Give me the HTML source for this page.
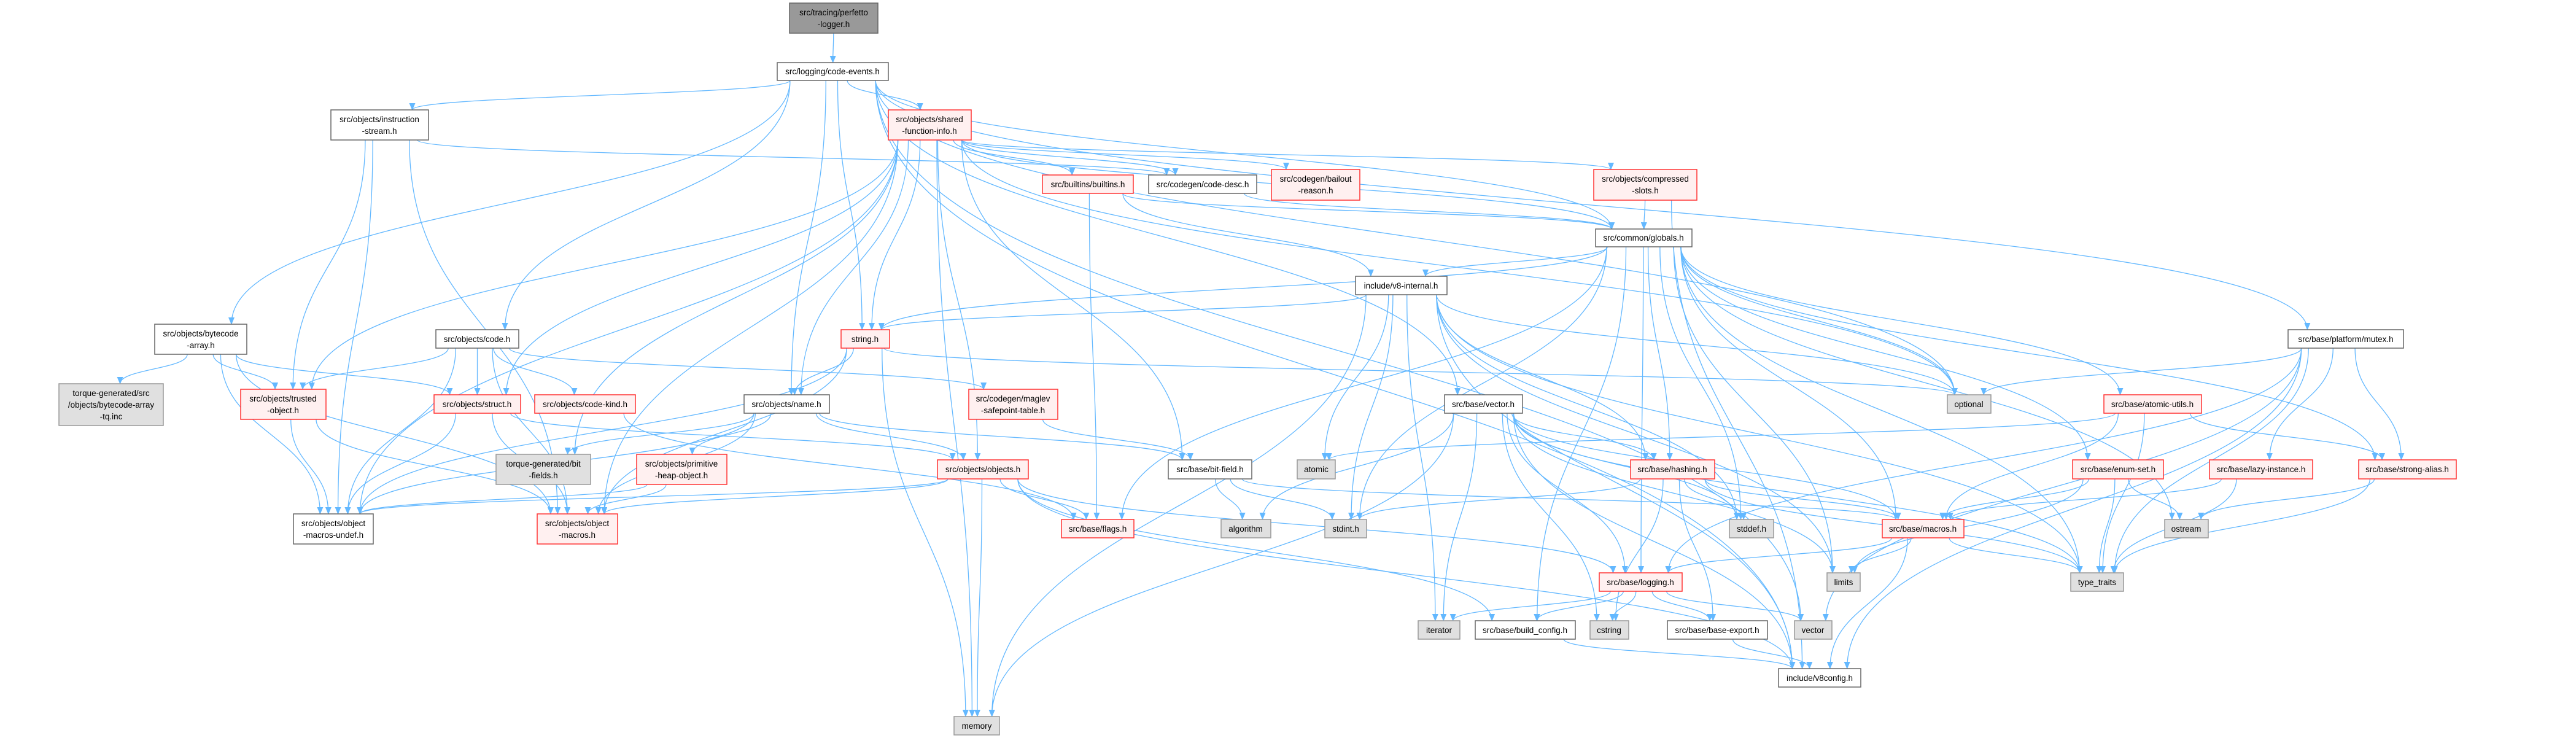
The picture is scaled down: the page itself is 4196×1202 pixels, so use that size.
<!DOCTYPE html>
<html><head><meta charset="utf-8">
<style>
html,body{margin:0;padding:0;background:#fff;}
svg{display:block;}
text{font-family:"Liberation Sans",sans-serif;font-size:13.5px;fill:#000;text-anchor:middle;}
.w{fill:#fff;stroke:#666;stroke-width:1.5;}
.r{fill:#fff0f0;stroke:#ff3333;stroke-width:1.5;}
.g{fill:#e0e0e0;stroke:#999;stroke-width:1.5;}
.k{fill:#999;stroke:#666;stroke-width:1.5;}
#edges path{fill:none;stroke:#63b8ff;stroke-width:1.3;}
</style></head><body>
<svg id="s" width="4196" height="1202" viewBox="0 0 4196 1202" xmlns="http://www.w3.org/2000/svg">
<defs><marker id="ah" markerWidth="12" markerHeight="10" refX="11" refY="5" orient="auto" markerUnits="userSpaceOnUse"><path d="M0,0 L12,5 L0,10 z" fill="#63b8ff"/></marker></defs>
<g id="edges"></g>
<g id="nodes">
<rect id="A" class="k" x="1286" y="5" width="144" height="49"/><text x="1358" y="25">src/tracing/perfetto</text><text x="1358" y="44">-logger.h</text>
<rect id="CE" class="w" x="1266" y="102" width="181" height="29"/><text x="1356" y="121">src/logging/code-events.h</text>
<rect id="IS" class="w" x="539" y="179" width="159" height="49"/><text x="618" y="199">src/objects/instruction</text><text x="618" y="218">-stream.h</text>
<rect id="SFI" class="r" x="1447" y="179" width="135" height="49"/><text x="1514" y="199">src/objects/shared</text><text x="1514" y="218">-function-info.h</text>
<rect id="BA" class="w" x="252" y="528" width="150" height="49"/><text x="327" y="548">src/objects/bytecode</text><text x="327" y="567">-array.h</text>
<rect id="CODE" class="w" x="710" y="537" width="135" height="30"/><text x="777" y="557">src/objects/code.h</text>
<rect id="STR" class="r" x="1370" y="537" width="79" height="30"/><text x="1409" y="557">string.h</text>
<rect id="BUI" class="r" x="1698" y="285" width="148" height="30"/><text x="1772" y="305">src/builtins/builtins.h</text>
<rect id="CD" class="w" x="1871" y="285" width="176" height="30"/><text x="1959" y="305">src/codegen/code-desc.h</text>
<rect id="BR" class="r" x="2071" y="276" width="144" height="50"/><text x="2143" y="296">src/codegen/bailout</text><text x="2143" y="315">-reason.h</text>
<rect id="CS" class="r" x="2596" y="276" width="168" height="50"/><text x="2680" y="296">src/objects/compressed</text><text x="2680" y="315">-slots.h</text>
<rect id="G" class="w" x="2599" y="373" width="157" height="29"/><text x="2677" y="392">src/common/globals.h</text>
<rect id="V8I" class="w" x="2208" y="450" width="149" height="30"/><text x="2282" y="470">include/v8-internal.h</text>
<rect id="MUT" class="w" x="3727" y="537" width="188" height="30"/><text x="3821" y="557">src/base/platform/mutex.h</text>
<rect id="TQ" class="g" x="96" y="625" width="170" height="68"/><text x="181" y="645">torque-generated/src</text><text x="181" y="664">/objects/bytecode-array</text><text x="181" y="683">-tq.inc</text>
<rect id="TO" class="r" x="392" y="634" width="139" height="49"/><text x="461" y="654">src/objects/trusted</text><text x="461" y="673">-object.h</text>
<rect id="ST" class="r" x="707" y="643" width="141" height="30"/><text x="777" y="663">src/objects/struct.h</text>
<rect id="CK" class="r" x="871" y="643" width="164" height="30"/><text x="953" y="663">src/objects/code-kind.h</text>
<rect id="NM" class="w" x="1212" y="643" width="139" height="30"/><text x="1281" y="663">src/objects/name.h</text>
<rect id="MS" class="r" x="1578" y="634" width="145" height="49"/><text x="1650" y="654">src/codegen/maglev</text><text x="1650" y="673">-safepoint-table.h</text>
<rect id="VEC" class="w" x="2353" y="643" width="127" height="30"/><text x="2416" y="663">src/base/vector.h</text>
<rect id="OPT" class="g" x="3172" y="643" width="71" height="30"/><text x="3207" y="663">optional</text>
<rect id="AU" class="r" x="3427" y="643" width="159" height="30"/><text x="3506" y="663">src/base/atomic-utils.h</text>
<rect id="BF" class="g" x="808" y="740" width="154" height="49"/><text x="885" y="760">torque-generated/bit</text><text x="885" y="779">-fields.h</text>
<rect id="PHO" class="r" x="1037" y="740" width="147" height="49"/><text x="1110" y="760">src/objects/primitive</text><text x="1110" y="779">-heap-object.h</text>
<rect id="OBJ" class="r" x="1527" y="749" width="148" height="31"/><text x="1601" y="769">src/objects/objects.h</text>
<rect id="BIT" class="w" x="1903" y="749" width="136" height="31"/><text x="1971" y="769">src/base/bit-field.h</text>
<rect id="ATM" class="g" x="2113" y="749" width="62" height="31"/><text x="2144" y="769">atomic</text>
<rect id="HSH" class="r" x="2656" y="749" width="137" height="31"/><text x="2724" y="769">src/base/hashing.h</text>
<rect id="ES" class="r" x="3376" y="749" width="148" height="31"/><text x="3450" y="769">src/base/enum-set.h</text>
<rect id="LI" class="r" x="3599" y="749" width="168" height="31"/><text x="3683" y="769">src/base/lazy-instance.h</text>
<rect id="SA" class="r" x="3842" y="749" width="159" height="31"/><text x="3921" y="769">src/base/strong-alias.h</text>
<rect id="OMU" class="w" x="478" y="837" width="130" height="49"/><text x="543" y="857">src/objects/object</text><text x="543" y="876">-macros-undef.h</text>
<rect id="OM" class="r" x="875" y="837" width="131" height="49"/><text x="940" y="857">src/objects/object</text><text x="940" y="876">-macros.h</text>
<rect id="FL" class="r" x="1729" y="846" width="118" height="30"/><text x="1788" y="866">src/base/flags.h</text>
<rect id="ALG" class="g" x="1989" y="846" width="81" height="30"/><text x="2029" y="866">algorithm</text>
<rect id="SI" class="g" x="2158" y="846" width="68" height="30"/><text x="2192" y="866">stdint.h</text>
<rect id="SD" class="g" x="2817" y="846" width="72" height="30"/><text x="2853" y="866">stddef.h</text>
<rect id="MAC" class="r" x="3066" y="846" width="133" height="30"/><text x="3132" y="866">src/base/macros.h</text>
<rect id="OST" class="g" x="3526" y="846" width="71" height="30"/><text x="3561" y="866">ostream</text>
<rect id="LOG" class="r" x="2605" y="933" width="135" height="30"/><text x="2672" y="953">src/base/logging.h</text>
<rect id="LIM" class="g" x="2976" y="933" width="54" height="30"/><text x="3003" y="953">limits</text>
<rect id="TT" class="g" x="3373" y="933" width="86" height="30"/><text x="3416" y="953">type_traits</text>
<rect id="IT" class="g" x="2310" y="1011" width="68" height="30"/><text x="2344" y="1031">iterator</text>
<rect id="BC" class="w" x="2403" y="1011" width="163" height="30"/><text x="2484" y="1031">src/base/build_config.h</text>
<rect id="CST" class="g" x="2590" y="1011" width="63" height="30"/><text x="2621" y="1031">cstring</text>
<rect id="BE" class="w" x="2716" y="1011" width="163" height="30"/><text x="2797" y="1031">src/base/base-export.h</text>
<rect id="VC" class="g" x="2923" y="1011" width="61" height="30"/><text x="2953" y="1031">vector</text>
<rect id="V8C" class="w" x="2897" y="1089" width="134" height="30"/><text x="2964" y="1109">include/v8config.h</text>
<rect id="MEM" class="g" x="1554" y="1167" width="74" height="30"/><text x="1591" y="1187">memory</text>
</g>
</svg>
<script>
(function(){
var E={
A:"CE",
CE:"IS SFI BA CODE NM STR G VEC MUT OPT V8C VC",
IS:"CD TO OMU OM",
SFI:"BUI CD BR CS G ST NM OBJ BIT MEM OMU OM OPT STR BF TO",
BA:"TQ TO ST OMU OM",
CODE:"TO ST CK MS OMU OM",
BUI:"G FL V8I",
CD:"G",
CS:"G V8C",
G:"V8I STR AU SA ES LOG BC MAC LIM SD SI OST TT FL OPT HSH",
V8I:"STR ATM SI SD LIM TT V8C OPT MEM HSH IT",
STR:"NM OMU OM MEM OPT",
NM:"OBJ PHO BF BIT OMU OM",
ST:"OBJ OMU OM",
TO:"OMU OM",
CK:"FL",
PHO:"OMU OM",
MS:"BIT",
OBJ:"FL MEM LOG V8C BC OMU OM",
BIT:"ALG SI MAC",
VEC:"ALG MEM IT LOG CST MAC HSH SD TT LIM V8C",
HSH:"SI MAC CST BE TT SD",
MUT:"OPT LOG LI SA VC V8C TT",
AU:"ATM MAC SA TT",
ES:"MAC OST TT LIM",
LI:"MAC TT",
SA:"OST TT",
MAC:"LIM TT V8C LOG",
LOG:"IT BC CST BE VC",
BC:"V8C",
BE:"V8C"
};
function bx(id){var r=document.getElementById(id);var x=+r.getAttribute("x"),y=+r.getAttribute("y"),w=+r.getAttribute("width"),h=+r.getAttribute("height");return{x1:x,y1:y,x2:x+w,y2:y+h,w:w,h:h,cx:x+w/2,cy:y+h/2};}
function cl(v,m){return Math.max(-m,Math.min(m,v));}
var g=document.getElementById("edges"),out="";
for(var s in E){var a=bx(s);E[s].split(" ").forEach(function(t){var b=bx(t),sx,sy,ex,ey,d;
 if(b.y1>a.y2+5){sx=a.cx+cl((b.cx-a.cx)*0.15,a.w/2.6);sy=a.y2;ex=b.cx+cl((a.cx-b.cx)*0.1,b.w/3);ey=b.y1;var m=(ey-sy)*0.5;
  d="M"+sx+","+sy+" C"+sx+","+(sy+m)+" "+ex+","+(ey-m)+" "+ex+","+ey;}
 else if(b.y2<a.y1-5){sx=a.cx+cl((b.cx-a.cx)*0.15,a.w/2.6);sy=a.y1;ex=b.cx+cl((a.cx-b.cx)*0.1,b.w/3);ey=b.y2;var m2=(sy-ey)*0.5;
  d="M"+sx+","+sy+" C"+sx+","+(sy-m2)+" "+ex+","+(ey+m2)+" "+ex+","+ey;}
 else{if(b.cx>a.cx){sx=a.x2;ex=b.x1;}else{sx=a.x1;ex=b.x2;}sy=a.cy;ey=b.cy;var mx=(ex-sx)*0.5;
  d="M"+sx+","+sy+" C"+(sx+mx)+","+sy+" "+(ex-mx)+","+ey+" "+ex+","+ey;}
 out+='<path d="'+d+'" marker-end="url(#ah)"/>';});}
g.innerHTML=out;
})();
</script>
</body></html>
